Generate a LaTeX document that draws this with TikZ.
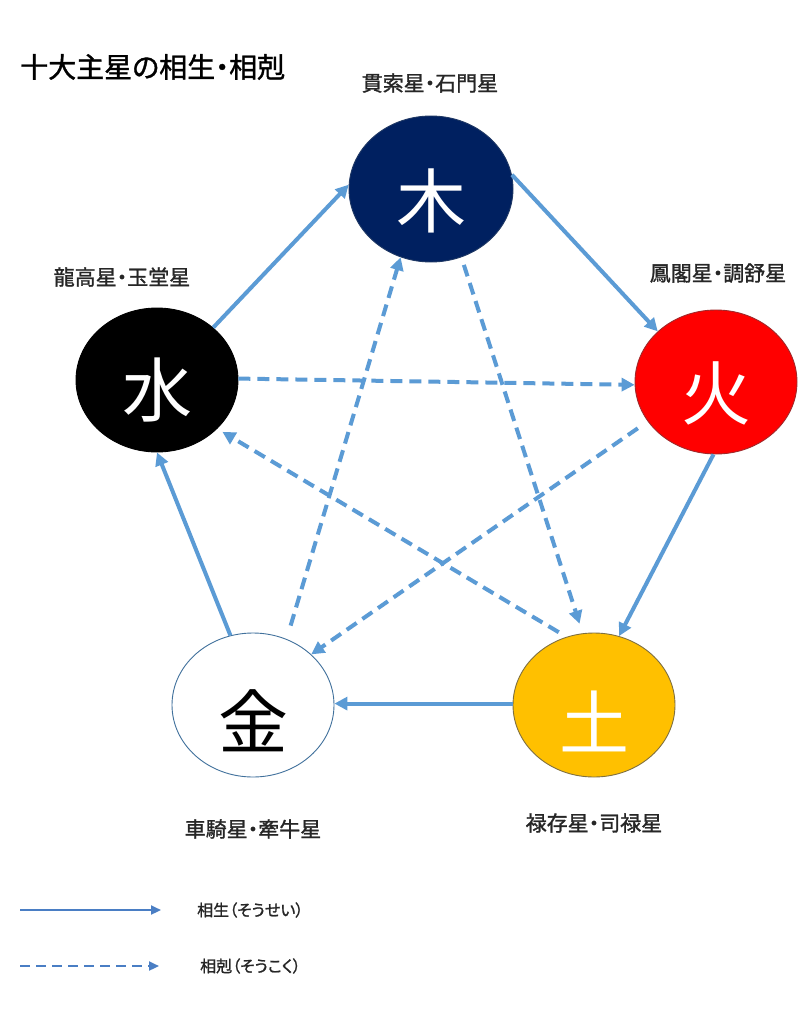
\documentclass[tikz,border=0pt]{standalone}
\usepackage{fontspec}
\setmainfont{Noto Sans CJK JP}[RawFeature=+palt]
\newfontfamily\medfont{Noto Sans CJK JP}[RawFeature=+palt, FakeBold=1.3]
\usetikzlibrary{shapes.geometric,arrows.meta}
\definecolor{arr}{HTML}{5B9BD5}
\definecolor{legc}{HTML}{4A7EC4}
\definecolor{woodc}{HTML}{002060}
\definecolor{woodl}{HTML}{1F3864}
\definecolor{firec}{HTML}{FF0000}
\definecolor{firel}{HTML}{A0282A}
\definecolor{waterc}{HTML}{000000}
\definecolor{metall}{HTML}{41719C}
\definecolor{earthc}{HTML}{FFC000}
\definecolor{earthl}{HTML}{7F7040}
\definecolor{txt}{HTML}{262626}
\begin{document}
\begin{tikzpicture}[x=1pt,y=-1pt,
  elm/.style={ellipse, inner sep=0pt, minimum width=162pt, minimum height=144pt, line width=0.9pt},
  glyph/.style={font=\fontsize{70}{70}\selectfont, inner sep=0pt},
  lbl/.style={font=\medfont\fontsize{21}{21}\selectfont, text=txt, inner sep=0pt},
  leg/.style={font=\medfont\fontsize{16}{16}\selectfont, text=txt, inner sep=0pt, anchor=west},
  sheng/.style={draw=arr, line width=4pt, -{Triangle[length=13pt,width=13pt]}},
  ke/.style={sheng, dash pattern=on 12pt off 7pt},
  legs/.style={draw=legc, line width=2.2pt, -{Triangle[length=10pt,width=9pt]}},
  legk/.style={legs, dash pattern=on 10pt off 6pt}]
\fill[white] (0,0) rectangle (810,1024);
\useasboundingbox (0,0) rectangle (810,1024);

% elements
\node[elm, fill=woodc, draw=woodl, minimum width=164pt, minimum height=146pt] (wood) at (431,189) {};
\node[elm, fill=firec, draw=firel] (fire) at (716,382) {};
\node[elm, fill=waterc, draw=waterc] (water) at (157,380) {};
\node[elm, fill=white, draw=metall] (metal) at (253,705) {};
\node[elm, fill=earthc, draw=earthl] (earth) at (594,705) {};

\node[glyph, text=white] (woodg) at ([yshift=-12pt]wood.center) {木};
\node[glyph, text=white] (fireg) at ([yshift=-11pt]fire.center) {火};
\node[glyph, text=white] (waterg) at ([yshift=-10pt]water.center) {水};
\node[glyph, text=black] (metalg) at ([yshift=-16pt]metal.center) {金};
\node[glyph, text=white] (earthg) at ([yshift=-16pt]earth.center) {土};

% labels
\node[font=\medfont\fontsize{28}{28}\selectfont, text=black, inner sep=0pt, anchor=west] (title) at (20,67) {十大主星の相生・相剋};
\node[lbl] (lwood) at (430,83) {貫索星・石門星};
\node[lbl] (lfire) at (718,273) {鳳閣星・調舒星};
\node[lbl] (lwater) at (122,277) {龍高星・玉堂星};
\node[lbl] (lmetal) at (253,829) {車騎星・牽牛星};
\node[lbl] (learth) at (594,823) {禄存星・司禄星};

% generating cycle
\draw[sheng] (water.43) -- (wood.177);
\draw[sheng] (wood.10) -- (fire.139);
\draw[sheng] (fire.268) -- (earth.70);
\draw[sheng] (earth.179) -- (metal.1);
\draw[sheng] (metal.108) -- (water.270);

% overcoming cycle
\draw[ke, shorten <=8pt, shorten >=10pt] (wood.294) -- (earth.99);
\draw[ke, shorten <=9pt, shorten >=6pt] (earth.112) -- (water.321);
\draw[ke] (water.1) -- (fire.182);
\draw[ke, shorten <=12pt] (fire.210) -- (metal.41);
\draw[ke, shorten <=14pt] (metal.63) -- (wood.246);

% legend
\coordinate (s1) at (20,910);
\coordinate (s2) at (161,910);
\draw[legs] (s1) -- (s2);
\node[leg] (t1) at (197,910) {相生（そうせい）};
\coordinate (k1) at (20,966);
\coordinate (k2) at (159,966);
\draw[legk] (k1) -- (k2);
\node[leg] (t2) at (200,966) {相剋（そうこく）};
\end{tikzpicture}
\end{document}
